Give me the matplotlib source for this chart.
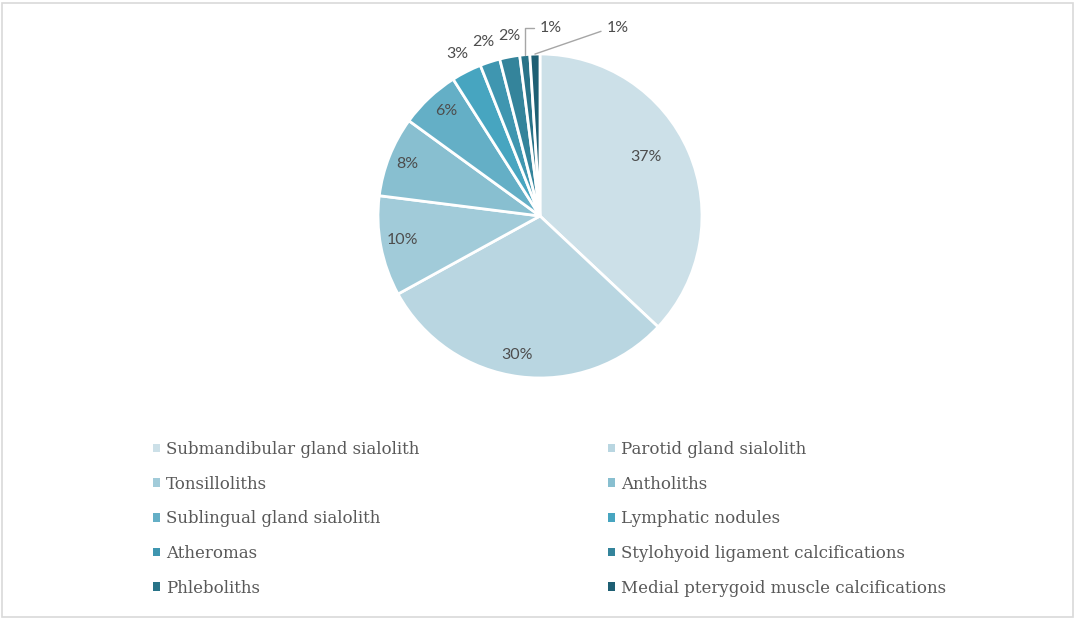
import matplotlib.pyplot as plt
import matplotlib.patches as mpatches
import numpy as np

labels = [
    "Submandibular gland sialolith",
    "Parotid gland sialolith",
    "Tonsilloliths",
    "Antholiths",
    "Sublingual gland sialolith",
    "Lymphatic nodules",
    "Atheromas",
    "Stylohyoid ligament calcifications",
    "Phleboliths",
    "Medial pterygoid muscle calcifications",
]
values = [37, 30, 10, 8, 6, 3, 2, 2, 1, 1]
colors = [
    "#cce0e8", "#b9d6e1", "#a1cbd9", "#88bfd0", "#64afc6",
    "#47a5c0", "#3f96b0", "#34849b", "#287388", "#1e5f73",
]
# label placement: radius (fraction of pie radius) and angular nudge in degrees
label_r = [0.75, 0.87, 0.86, 0.88, 0.87, 1.12, 1.13, 1.13, None, None]
label_da = [5.5, -2, -1, 0, -1.5, 0, 0, -1, 0, 0]

text_col = "#595959"
pct_col = "#4d4d4d"

fig = plt.figure(figsize=(10.75, 6.2), dpi=100)
W, H = 1075, 620

# pie axes: centre (540, 216) px, radius 162 px
cx, cy, R = 540, 216, 162
half = 1.05 * R
ax = fig.add_axes([(cx - half) / W, (H - cy - half) / H, 2 * half / W, 2 * half / H])

wedges, _ = ax.pie(
    values, colors=colors, startangle=90, counterclock=False,
    wedgeprops=dict(edgecolor="white", linewidth=2), radius=1,
)
ax.set_xlim(-1.05, 1.05)
ax.set_ylim(-1.05, 1.05)
ax.set_aspect("equal")
ax.axis("off")

for i, w in enumerate(wedges):
    mid = np.deg2rad((w.theta1 + w.theta2) / 2 + label_da[i])
    txt = "{}%".format(values[i])
    if label_r[i] is not None:
        r = label_r[i]
        ax.text(r * np.cos(mid), r * np.sin(mid), txt, ha="center", va="center",
                fontsize=11.5, color=pct_col, family="Lato", clip_on=False)

# leader-line labels for the two 1% slices
w9, w10 = wedges[8], wedges[9]
m9 = np.deg2rad((w9.theta1 + w9.theta2) / 2)
m10 = np.deg2rad((w10.theta1 + w10.theta2) / 2)
ax.annotate("1%", xy=(np.cos(m9), np.sin(m9)), xytext=(0.0, 1.16),
            ha="left", va="center", fontsize=11.5, color=pct_col, family="Lato",
            annotation_clip=False,
            arrowprops=dict(arrowstyle="-", color="#a6a6a6", lw=1,
                            shrinkA=2, shrinkB=0,
                            connectionstyle="angle,angleA=180,angleB=90,rad=0"))
ax.annotate("1%", xy=(np.cos(m10), np.sin(m10)), xytext=(0.41, 1.16),
            ha="left", va="center", fontsize=11.5, color=pct_col, family="Lato",
            annotation_clip=False,
            arrowprops=dict(arrowstyle="-", color="#a6a6a6", lw=1,
                            shrinkA=2, shrinkB=0,
                            connectionstyle="angle,angleA=180,angleB=19,rad=0"))

# legend: two columns, row-major order
handles = [mpatches.Patch(facecolor=c, edgecolor="none") for c in colors]
for col, x0 in enumerate([153, 608]):
    idx = list(range(col, len(labels), 2))
    fig.legend([handles[i] for i in idx], [labels[i] for i in idx],
               loc="upper left", bbox_to_anchor=(x0 / W, 1 - 441 / H),
               frameon=False, handlelength=0.42, handleheight=0.42,
               handletextpad=0.38, labelspacing=1.06, borderpad=0, borderaxespad=0,
               prop=dict(family="DejaVu Serif", size=12), labelcolor=text_col)

# light grey frame around the figure
fig.patches.append(mpatches.Rectangle((2 / W, 3 / H), 1071 / W, 614 / H,
                                      transform=fig.transFigure, fill=False,
                                      edgecolor="#d9d9d9", lw=1.2))

fig.savefig("out.png", dpi=100)
